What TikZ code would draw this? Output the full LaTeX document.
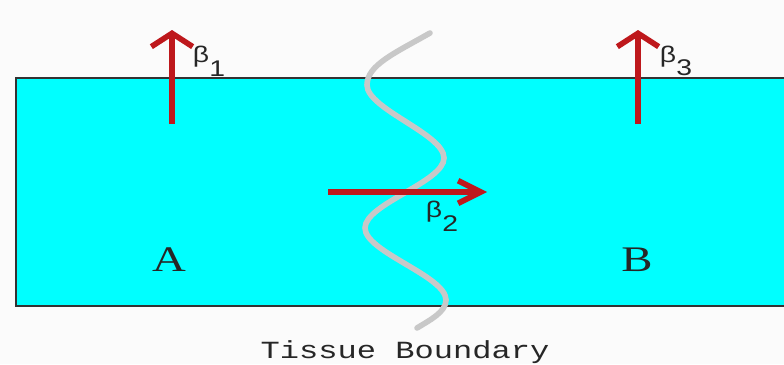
\documentclass[tikz,border=0pt]{standalone}
\usepackage{fontspec}
\setmainfont{Liberation Serif}
\setsansfont{Liberation Sans}
\setmonofont{Liberation Mono}
\usetikzlibrary{arrows.meta}
\definecolor{beamred}{RGB}{190,24,28}
\definecolor{tissue}{RGB}{0,255,255}
\definecolor{bndgray}{RGB}{200,200,200}
\newcommand{\lowsub}[1]{\raisebox{-0.6em}{#1}}

\begin{document}
\begin{tikzpicture}[x=0.75pt, y=-0.75pt,
    beam/.style={line width=4.2pt, beamred},
    wide/.style={xscale=#1, inner sep=0pt, text=black!85}]
    \useasboundingbox (0,0) rectangle (784,364);
    \fill[gray!3] (0,0) rectangle (784,364);
    \fill[tissue] (16,78) rectangle (784,306);
    \draw[line width=1.1pt, black!80] (784,78) -- (16,78) -- (16,306) -- (784,306);

    \draw[bndgray, line width=4.2pt, line cap=round] (430,33) .. controls (395,53) and (367,65) .. (367,85)
        .. controls (367,109) and (444,134) .. (444,158) .. controls (444,182) and (365,204) .. (365,228)
        .. controls (365,252) and (446,276) .. (446,300) .. controls (446,312) and (430,320) .. (417,328);

    \coordinate (a1) at (172,124); \coordinate (a1tip) at (172,30);
    \coordinate (a3) at (638,124); \coordinate (a3tip) at (638,30);
    \coordinate (a2) at (328,192); \coordinate (a2tip) at (487,192);
    \foreach \s in {a1,a3} \draw[beam, -{Straight Barb[length=10pt, width=31pt]}] (\s) -- (\s tip);
    \draw[beam, -{Straight Barb[length=17pt, width=17pt]}] (a2) -- (a2tip);

    \node[wide=1.25, font=\sffamily\fontsize{17}{19}\selectfont] (b1) at (209,61) {β\lowsub{1}};
    \node[wide=1.25, font=\sffamily\fontsize{17}{19}\selectfont] (b3) at (676,61) {β\lowsub{3}};
    \node[wide=1.25, font=\sffamily\fontsize{17}{19}\selectfont] (b2) at (442,216) {β\lowsub{2}};
    \node[wide=1.3, font=\fontsize{27}{29}\selectfont] (A) at (169,260) {A};
    \node[wide=1.3, font=\fontsize{27}{29}\selectfont] (B) at (637,260) {B};
    \node[wide=1.3, font=\ttfamily\fontsize{18.5}{20}\selectfont] (tb) at (405,352) {Tissue Boundary};
\end{tikzpicture}
\end{document}
